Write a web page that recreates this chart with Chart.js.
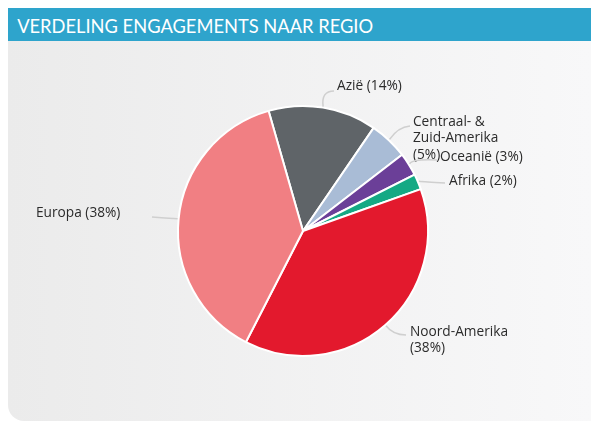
<!DOCTYPE html>
<html>
<head>
<meta charset="utf-8">
<script src="https://cdn.jsdelivr.net/npm/chart.js@4.4.1/dist/chart.umd.min.js"></script>
<style>
  html, body { margin: 0; padding: 0; background: #fff; }
  body { width: 591px; height: 423px; position: relative; overflow: hidden; }
  .header { position: absolute; left: 8px; top: 8px; width: 583px; height: 33px; background: #2ea4cc; }
  .header h1 { margin: 0; padding-left: 10px; font: 400 20px Lato, sans-serif; line-height: 34px; color: #fff;
    white-space: nowrap; transform: scaleX(0.915); transform-origin: 0 50%; }
  .panel { position: absolute; left: 8px; top: 41px; width: 583px; height: 380px;
    background: linear-gradient(to right, #ebebeb, #f8f8f9); border-bottom-left-radius: 16px; }
  .wrap { position: absolute; left: 0; top: 0; width: 591px; height: 423px; }
</style>
</head>
<body>
<div class="header"><h1>VERDELING ENGAGEMENTS NAAR REGIO</h1></div>
<div class="panel"></div>
<div class="wrap"><canvas id="regioChart"></canvas></div>
<script>
// regions, clockwise from the top
const regions = ["Azië", ["Centraal- &", "Zuid-Amerika"], "Oceanië", "Afrika", ["Noord-Amerika"], "Europa"];
const shares = [14, 5, 3, 2, 38, 38];
const sliceColors = ["#5f6468", "#a9bcd6", "#6b3f98", "#14a984", "#e3192d", "#f17f83"];

// where each label sits (page px): bend of the leader line, its end, and the text start
const labelSpots = [
  { bend: [321, 91], end: [334, 91], text: [337, 86] },
  { bend: [398, 127], end: [410, 126], text: [413, 122] },
  { bend: [412, 159], end: [437, 160], text: [440, 157] },
  { bend: [424, 182], end: [445, 183], text: [449, 181] },
  { bend: [393, 335], end: [406, 335], text: [410, 332] },
  { bend: [165, 218], end: [152, 217], text: [36, 213] },
];

const leaderLabels = {
  id: "leaderLabels",
  afterDatasetsDraw(chart) {
    const ctx = chart.ctx;
    const meta = chart.getDatasetMeta(0);
    const total = shares.reduce((a, b) => a + b, 0);
    ctx.save();
    meta.data.forEach((arc, i) => {
      const spot = labelSpots[i];
      const { x, y, startAngle, endAngle, outerRadius } = arc.getProps(["x", "y", "startAngle", "endAngle", "outerRadius"], true);
      const mid = (startAngle + endAngle) / 2;
      const sx = x + Math.cos(mid) * (outerRadius + 1);
      const sy = y + Math.sin(mid) * (outerRadius + 1);

      ctx.strokeStyle = "#cfcfcf";
      ctx.lineWidth = 1.5;
      ctx.beginPath();
      ctx.moveTo(sx, sy);
      ctx.quadraticCurveTo(spot.bend[0], spot.bend[1], spot.end[0], spot.end[1]);
      ctx.stroke();

      const pct = "(" + Math.round((shares[i] / total) * 100) + "%)";
      const label = regions[i];
      const lines = Array.isArray(label) ? [...label, pct] : [label + " " + pct];
      ctx.fillStyle = "#2b2b2b";
      ctx.font = "13.7px 'Open Sans'";
      ctx.textAlign = "left";
      ctx.textBaseline = "middle";
      lines.forEach((ln, k) => ctx.fillText(ln, spot.text[0], spot.text[1] + k * 16.5));
    });
    ctx.restore();
  },
};

new Chart(document.getElementById("regioChart"), {
  type: "pie",
  data: {
    labels: regions,
    datasets: [{
      data: shares,
      backgroundColor: sliceColors,
      borderColor: "#ffffff",
      borderWidth: 2,
    }],
  },
  options: {
    responsive: true,
    maintainAspectRatio: false,
    animation: false,
    rotation: -16,
    layout: { padding: { top: 105, bottom: 66, left: 177, right: 162 } },
    plugins: {
      legend: { display: false },
      tooltip: { enabled: false },
    },
  },
  plugins: [leaderLabels],
});
</script>
</body>
</html>
